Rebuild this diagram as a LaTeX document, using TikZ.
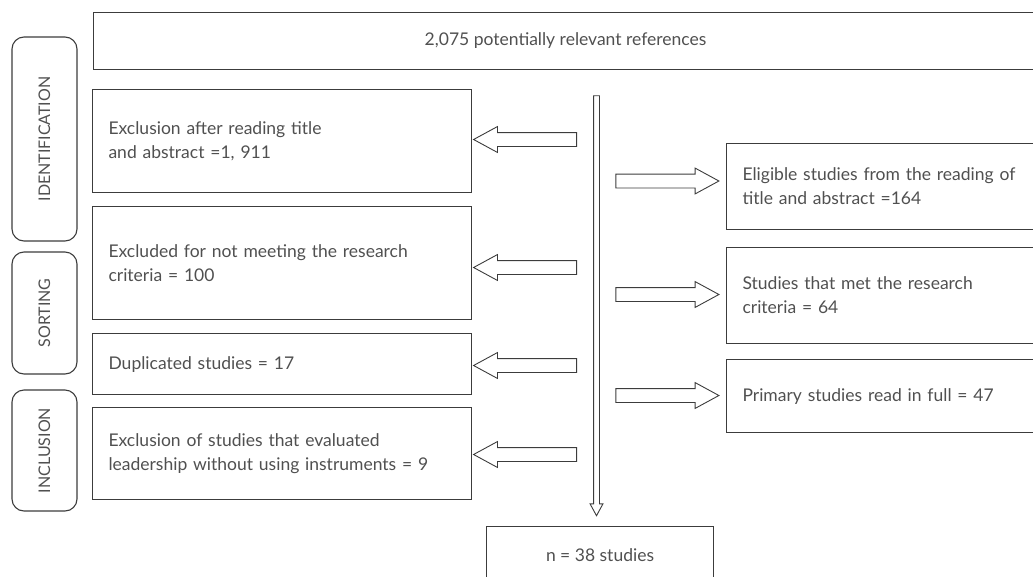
\documentclass[tikz,border=0pt]{standalone}
\usepackage{fontspec}
\setmainfont{Lato}
\usetikzlibrary{shapes.arrows}
\definecolor{boxline}{HTML}{3C3C3C}
\definecolor{boxtext}{HTML}{505050}
\tikzset{
  box/.style={draw=boxline,line width=1.1pt,text=boxtext,font=\fontsize{17.5}{24}\selectfont,inner sep=0pt},
  leftbox/.style={box,anchor=north west,minimum width=379pt,text width=347pt,align=left},
  rightbox/.style={box,anchor=north west,minimum width=311pt,text width=279pt,align=left},
  stagebox/.style={box,font=\fontsize{16}{20}\selectfont,rotate=90,minimum height=65pt,rounded corners=12pt},
  fatarrow/.style={draw=boxline,line width=0.9pt,single arrow,inner sep=0pt,inner ysep=6.5pt,
    single arrow head extend=6pt,single arrow tip angle=57,minimum height=103pt},
}
\begin{document}
\begin{tikzpicture}[x=1pt,y=-1pt]
  \useasboundingbox (0,0) rectangle (1033,576);
  \clip (0,0) rectangle (1033,576);
  % stages
  \node[stagebox,minimum width=204pt] (ident) at (44.5,139) {IDENTIFICATION};
  \node[stagebox,minimum width=122pt] (sort) at (44.5,313) {SORTING};
  \node[stagebox,minimum width=121pt] (incl) at (44.5,450.5) {INCLUSION};
  % boxes
  \node[box,anchor=north west,minimum width=944pt,minimum height=57pt] (refs) at (93,12) {2,075 potentially relevant references};
  \node[leftbox,minimum height=103pt] (excl1) at (92,89) {Exclusion after reading title\\and abstract =1, 911};
  \node[leftbox,minimum height=113pt] (excl2) at (92,206) {Excluded for not meeting the research\\criteria = 100};
  \node[leftbox,minimum height=61pt] (dupl) at (92,333) {Duplicated studies = 17};
  \node[leftbox,minimum height=92pt] (excl3) at (92,407) {Exclusion of studies that evaluated\\leadership without using instruments = 9};
  \node[rightbox,minimum height=86pt] (elig) at (726,143) {Eligible studies from the reading of\\title and abstract =164};
  \node[rightbox,minimum height=96pt] (met) at (726,247) {Studies that met the research\\criteria = 64};
  \node[rightbox,minimum height=73pt] (full) at (726,359) {Primary studies read in full = 47};
  \node[box,anchor=north west,minimum width=227pt,minimum height=58pt] (final) at (486,526) {n = 38 studies};
  % arrows
  \node[fatarrow,inner sep=2.5pt,single arrow head extend=3.5pt,minimum height=420pt,shape border rotate=270] (flow) at (596.5,303) {};
  \foreach \y/\n in {139.5/a1,267.5/a2,365.5/a3,454.5/a4}
    \node[fatarrow,shape border rotate=180] (\n) at (531.5,\y) {};
  \foreach \y/\n in {181/b1,294.5/b2,395.5/b3}
    \node[fatarrow] (\n) at (661,\y) {};
\end{tikzpicture}
\end{document}
